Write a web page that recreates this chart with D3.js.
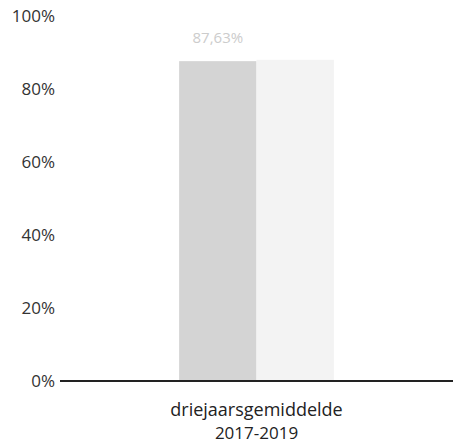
<!DOCTYPE html>
<html>
<head>
<meta charset="utf-8">
<script src="https://cdn.jsdelivr.net/npm/d3@7"></script>
<style>
html,body{margin:0;padding:0;background:#fff;}
text{font-family:"Open Sans",sans-serif;}
</style>
</head>
<body>
<svg id="chart" width="453" height="445"></svg>
<script>
const categories = ["driejaarsgemiddelde|2017-2019"];
const seriesNames = ["reeks1", "reeks2"];
const series1 = [87.63];
const series2 = [88];
const tickValues = [0, 20, 40, 60, 80, 100];
const valueLabels = ["87,63%"];

const svg = d3.select("#chart");
const margin = {left: 60, right: 0, top: 16, bottom: 64};
const W = 453, H = 445;
const y = d3.scaleLinear().domain([0, 100]).range([H - margin.bottom, margin.top]);
const x0 = d3.scaleBand().domain(categories).range([margin.left, W]).paddingInner(0).paddingOuter(0.77);
const x1 = d3.scaleBand().domain(seriesNames).range([0, x0.bandwidth()]).padding(0);

const colors = {reeks1: "#d4d4d4", reeks2: "#f3f3f3"};
const data = categories.map((c, i) => ({cat: c, vals: [{s: "reeks1", v: series1[i]}, {s: "reeks2", v: series2[i]}]}));

const g = svg.append("g");
g.selectAll("g.cat").data(data).join("g").attr("class", "cat")
  .attr("transform", d => `translate(${x0(d.cat)},0)`)
  .selectAll("rect").data(d => d.vals).join("rect")
  .attr("x", d => x1(d.s)).attr("width", x1.bandwidth())
  .attr("y", d => y(d.v)).attr("height", d => y(0) - y(d.v))
  .attr("fill", d => colors[d.s]);

// value label
g.selectAll("text.val").data(data).join("text").attr("class", "val")
  .attr("x", (d) => x0(d.cat) + x1("reeks1") + x1.bandwidth() / 2)
  .attr("y", (d, i) => y(series1[i]) - 18)
  .attr("text-anchor", "middle").attr("font-size", 15).attr("fill", "#cccccc")
  .text((d, i) => valueLabels[i]);

// y axis labels
const yAxis = d3.axisLeft(y).tickValues(tickValues).tickFormat(d => d + "%").tickSize(0).tickPadding(5);
const ya = svg.append("g").attr("transform", `translate(${margin.left},0)`).call(yAxis);
ya.select(".domain").remove();
ya.selectAll("text").attr("font-size", 17).attr("fill", "#333").attr("font-family", "Open Sans, sans-serif");

// baseline
svg.append("line").attr("x1", margin.left).attr("x2", W).attr("y1", y(0)).attr("y2", y(0))
  .attr("stroke", "#222").attr("stroke-width", 2);

// x axis labels
const xa = svg.append("g");
categories.forEach(c => {
  const parts = c.split("|");
  const cx = x0(c) + x0.bandwidth() / 2;
  parts.forEach((p, j) => {
    xa.append("text").attr("x", cx).attr("y", y(0) + 35 + j * 23)
      .attr("text-anchor", "middle").attr("font-size", j === 0 ? 18 : 17).attr("fill", "#222").text(p);
  });
});
</script>
</body>
</html>
